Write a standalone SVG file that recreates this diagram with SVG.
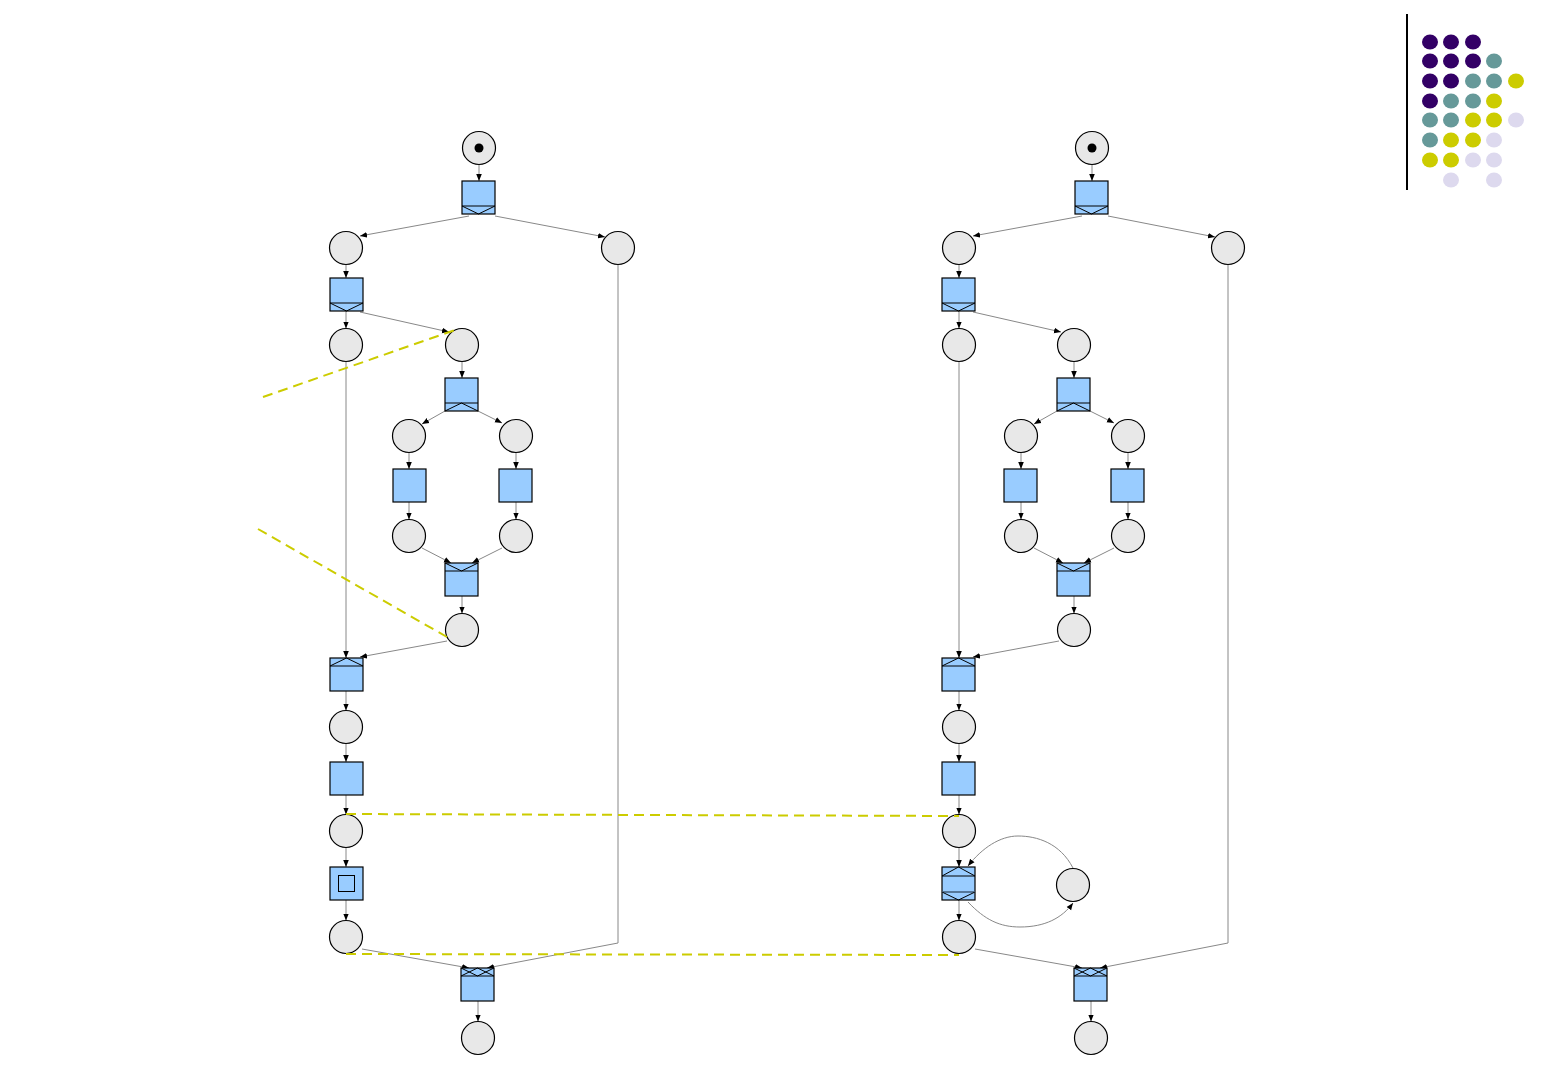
<svg xmlns="http://www.w3.org/2000/svg" width="1560" height="1080" viewBox="0 0 1560 1080">
<defs>
<style>
.pl{fill:#e8e8e8;stroke:#000;stroke-width:1.2}
.tr{fill:#99ccff;stroke:#000;stroke-width:1.2}
.dec{fill:none;stroke:#000;stroke-width:1}
.arc{fill:none;stroke:#888;stroke-width:1;marker-end:url(#ah)}
.ln{fill:none;stroke:#888;stroke-width:1}
.dash{fill:none;stroke:#cccc00;stroke-width:2;stroke-dasharray:10,6}
.P{fill:#330066}.T{fill:#669999}.Y{fill:#cccc00}.L{fill:#ddd9ee}
</style>
<marker id="ah" viewBox="0 0 10 10" refX="10" refY="5" markerWidth="7" markerHeight="7" orient="auto" markerUnits="userSpaceOnUse">
<path d="M0,1 L10,5 L0,9 Z" fill="#000"/>
</marker>
</defs>
<rect width="1560" height="1080" fill="#fff"/>

<g id="connectors">
<!-- left net -->
<path class="arc" d="M479,164.5 L479,181"/>
<path class="arc" d="M469,216 L360,236"/>
<path class="arc" d="M495,216 L605,237"/>
<path class="arc" d="M346,264.5 L346,278"/>
<path class="arc" d="M346,311 L346,328.5"/>
<path class="arc" d="M360,312 L449,332"/>
<path class="arc" d="M462,361.5 L462,378"/>
<path class="arc" d="M445,411 L422,424"/>
<path class="arc" d="M478,411 L502,423"/>
<path class="arc" d="M409,452.5 L409,469"/>
<path class="arc" d="M409,502 L409,519.5"/>
<path class="arc" d="M516,452.5 L516,469"/>
<path class="arc" d="M516,502 L516,519.5"/>
<path class="arc" d="M422,548 L451,563"/>
<path class="arc" d="M502,548 L472,563"/>
<path class="arc" d="M462,596 L462,613.5"/>
<path class="arc" d="M447,641 L360,657"/>
<path class="arc" d="M346,361.5 L346,658"/>
<path class="arc" d="M346,691 L346,710.5"/>
<path class="arc" d="M346,743.5 L346,762"/>
<path class="arc" d="M346,795 L346,814.5"/>
<path class="arc" d="M346,847.5 L346,867"/>
<path class="arc" d="M346,900 L346,920.5"/>
<path class="arc" d="M362,949 L469,968"/>
<path class="arc" d="M618,264.5 L618,943 L487,968"/>
<path class="arc" d="M478,1001 L478,1021.5"/>
<!-- right net -->
<path class="arc" d="M1092,164.5 L1092,181"/>
<path class="arc" d="M1082,216 L973,236"/>
<path class="arc" d="M1108,216 L1215,237"/>
<path class="arc" d="M959,264.5 L959,278"/>
<path class="arc" d="M959,311 L959,328.5"/>
<path class="arc" d="M973,312 L1061,332"/>
<path class="arc" d="M1074,361.5 L1074,378"/>
<path class="arc" d="M1057,411 L1034,424"/>
<path class="arc" d="M1090,411 L1114,423"/>
<path class="arc" d="M1021,452.5 L1021,469"/>
<path class="arc" d="M1021,502 L1021,519.5"/>
<path class="arc" d="M1128,452.5 L1128,469"/>
<path class="arc" d="M1128,502 L1128,519.5"/>
<path class="arc" d="M1034,548 L1063,563"/>
<path class="arc" d="M1114,548 L1084,563"/>
<path class="arc" d="M1074,596 L1074,613.5"/>
<path class="arc" d="M1059,641 L973,657"/>
<path class="arc" d="M959,361.5 L959,658"/>
<path class="arc" d="M959,691 L959,710.5"/>
<path class="arc" d="M959,743.5 L959,762"/>
<path class="arc" d="M959,795 L959,814.5"/>
<path class="arc" d="M959,847.5 L959,867"/>
<path class="arc" d="M959,900 L959,920.5"/>
<path class="arc" d="M975,949 L1082,968"/>
<path class="arc" d="M1228,264.5 L1228,943 L1100,968"/>
<path class="arc" d="M1091,1001 L1091,1021.5"/>
<path class="arc" d="M1073,868 C1060,843 1037,836 1018,836 C1000,836 982,848 968,866"/>
<path class="arc" d="M968,902 C985,920 1000,927 1020,927 C1045,927 1062,918 1073,903"/>
</g>

<g id="left-net">
<g id="L_p0"><circle class="pl" cx="479" cy="148" r="16.5"/><circle cx="479" cy="148" r="4.5" fill="#000"/></g>
<g id="L_t1"><rect class="tr" x="462" y="181" width="33" height="33"/><path class="dec" d="M462,206 H495 M462,206 L478.5,214 L495,206"/></g>
<g id="L_p1"><circle class="pl" cx="346" cy="248" r="16.5"/></g>
<g id="L_p2"><circle class="pl" cx="618" cy="248" r="16.5"/></g>
<g id="L_t2"><rect class="tr" x="330" y="278" width="33" height="33"/><path class="dec" d="M330,303 H363 M330,303 L346.5,311 L363,303"/></g>
<g id="L_p3"><circle class="pl" cx="346" cy="345" r="16.5"/></g>
<g id="L_p4"><circle class="pl" cx="462" cy="345" r="16.5"/></g>
<g id="L_t3"><rect class="tr" x="445" y="378" width="33" height="33"/><path class="dec" d="M445,403 H478 M445,411 L461.5,403 L478,411"/></g>
<g id="L_p5"><circle class="pl" cx="409" cy="436" r="16.5"/></g>
<g id="L_p6"><circle class="pl" cx="516" cy="436" r="16.5"/></g>
<g id="L_t4"><rect class="tr" x="393" y="469" width="33" height="33"/></g>
<g id="L_t5"><rect class="tr" x="499" y="469" width="33" height="33"/></g>
<g id="L_p7"><circle class="pl" cx="409" cy="536" r="16.5"/></g>
<g id="L_p8"><circle class="pl" cx="516" cy="536" r="16.5"/></g>
<g id="L_t6"><rect class="tr" x="445" y="563" width="33" height="33"/><path class="dec" d="M445,571 H478 M445,563 L461.5,571 L478,563"/></g>
<g id="L_p9"><circle class="pl" cx="462" cy="630" r="16.5"/></g>
<g id="L_t7"><rect class="tr" x="330" y="658" width="33" height="33"/><path class="dec" d="M330,666 H363 M330,666 L346.5,658 L363,666"/></g>
<g id="L_p10"><circle class="pl" cx="346" cy="727" r="16.5"/></g>
<g id="L_t8"><rect class="tr" x="330" y="762" width="33" height="33"/></g>
<g id="L_p11"><circle class="pl" cx="346" cy="831" r="16.5"/></g>
<g id="L_t9"><rect class="tr" x="330" y="867" width="33" height="33"/><rect class="dec" x="338.5" y="875.5" width="16" height="16"/></g>
<g id="L_p12"><circle class="pl" cx="346" cy="937" r="16.5"/></g>
<g id="L_t10"><rect class="tr" x="461" y="968" width="33" height="33"/><path class="dec" d="M461,976 H494 M461,968 L477.5,976 L494,968 M461,976 L477.5,968 L494,976"/></g>
<g id="L_p13"><circle class="pl" cx="478" cy="1038" r="16.5"/></g>
</g>

<g id="right-net">
<g id="R_p0"><circle class="pl" cx="1092" cy="148" r="16.5"/><circle cx="1092" cy="148" r="4.5" fill="#000"/></g>
<g id="R_t1"><rect class="tr" x="1075" y="181" width="33" height="33"/><path class="dec" d="M1075,206 H1108 M1075,206 L1091.5,214 L1108,206"/></g>
<g id="R_p1"><circle class="pl" cx="959" cy="248" r="16.5"/></g>
<g id="R_p2"><circle class="pl" cx="1228" cy="248" r="16.5"/></g>
<g id="R_t2"><rect class="tr" x="942" y="278" width="33" height="33"/><path class="dec" d="M942,303 H975 M942,303 L958.5,311 L975,303"/></g>
<g id="R_p3"><circle class="pl" cx="959" cy="345" r="16.5"/></g>
<g id="R_p4"><circle class="pl" cx="1074" cy="345" r="16.5"/></g>
<g id="R_t3"><rect class="tr" x="1057" y="378" width="33" height="33"/><path class="dec" d="M1057,403 H1090 M1057,411 L1073.5,403 L1090,411"/></g>
<g id="R_p5"><circle class="pl" cx="1021" cy="436" r="16.5"/></g>
<g id="R_p6"><circle class="pl" cx="1128" cy="436" r="16.5"/></g>
<g id="R_t4"><rect class="tr" x="1004" y="469" width="33" height="33"/></g>
<g id="R_t5"><rect class="tr" x="1111" y="469" width="33" height="33"/></g>
<g id="R_p7"><circle class="pl" cx="1021" cy="536" r="16.5"/></g>
<g id="R_p8"><circle class="pl" cx="1128" cy="536" r="16.5"/></g>
<g id="R_t6"><rect class="tr" x="1057" y="563" width="33" height="33"/><path class="dec" d="M1057,571 H1090 M1057,563 L1073.5,571 L1090,563"/></g>
<g id="R_p9"><circle class="pl" cx="1074" cy="630" r="16.5"/></g>
<g id="R_t7"><rect class="tr" x="942" y="658" width="33" height="33"/><path class="dec" d="M942,666 H975 M942,666 L958.5,658 L975,666"/></g>
<g id="R_p10"><circle class="pl" cx="959" cy="727" r="16.5"/></g>
<g id="R_t8"><rect class="tr" x="942" y="762" width="33" height="33"/></g>
<g id="R_p11"><circle class="pl" cx="959" cy="831" r="16.5"/></g>
<g id="R_t9"><rect class="tr" x="942" y="867" width="33" height="33"/><path class="dec" d="M942,876 H975 M942,876 L958.5,867 L975,876"/><path d="M942,892 H975" stroke="#557799" stroke-width="2" fill="none"/><path class="dec" d="M942,892 L958.5,900 L975,892"/></g>
<g id="R_p12"><circle class="pl" cx="959" cy="937" r="16.5"/></g>
<g id="R_ploop"><circle class="pl" cx="1073" cy="885" r="16.5"/></g>
<g id="R_t10"><rect class="tr" x="1074" y="968" width="33" height="33"/><path class="dec" d="M1074,976 H1107 M1074,968 L1090.5,976 L1107,968 M1074,976 L1090.5,968 L1107,976"/></g>
<g id="R_p13"><circle class="pl" cx="1091" cy="1038" r="16.5"/></g>
</g>

<g id="mappings">
<path class="dash" d="M263,397 L455,330"/>
<path class="dash" d="M258,529 L447,637"/>
<path class="dash" d="M346,814 L959,816"/>
<path class="dash" d="M346,954 L959,955"/>
</g>

<g id="legend">
<path d="M1407,14 V190" stroke="#000" stroke-width="2"/>
<ellipse class="P" cx="1430" cy="42" rx="8" ry="7.5"/><ellipse class="P" cx="1451" cy="42" rx="8" ry="7.5"/><ellipse class="P" cx="1473" cy="42" rx="8" ry="7.5"/>
<ellipse class="P" cx="1430" cy="61" rx="8" ry="7.5"/><ellipse class="P" cx="1451" cy="61" rx="8" ry="7.5"/><ellipse class="P" cx="1473" cy="61" rx="8" ry="7.5"/><ellipse class="T" cx="1494" cy="61" rx="8" ry="7.5"/>
<ellipse class="P" cx="1430" cy="81" rx="8" ry="7.5"/><ellipse class="P" cx="1451" cy="81" rx="8" ry="7.5"/><ellipse class="T" cx="1473" cy="81" rx="8" ry="7.5"/><ellipse class="T" cx="1494" cy="81" rx="8" ry="7.5"/><ellipse class="Y" cx="1516" cy="81" rx="8" ry="7.5"/>
<ellipse class="P" cx="1430" cy="101" rx="8" ry="7.5"/><ellipse class="T" cx="1451" cy="101" rx="8" ry="7.5"/><ellipse class="T" cx="1473" cy="101" rx="8" ry="7.5"/><ellipse class="Y" cx="1494" cy="101" rx="8" ry="7.5"/>
<ellipse class="T" cx="1430" cy="120" rx="8" ry="7.5"/><ellipse class="T" cx="1451" cy="120" rx="8" ry="7.5"/><ellipse class="Y" cx="1473" cy="120" rx="8" ry="7.5"/><ellipse class="Y" cx="1494" cy="120" rx="8" ry="7.5"/><ellipse class="L" cx="1516" cy="120" rx="8" ry="7.5"/>
<ellipse class="T" cx="1430" cy="140" rx="8" ry="7.5"/><ellipse class="Y" cx="1451" cy="140" rx="8" ry="7.5"/><ellipse class="Y" cx="1473" cy="140" rx="8" ry="7.5"/><ellipse class="L" cx="1494" cy="140" rx="8" ry="7.5"/>
<ellipse class="Y" cx="1430" cy="160" rx="8" ry="7.5"/><ellipse class="Y" cx="1451" cy="160" rx="8" ry="7.5"/><ellipse class="L" cx="1473" cy="160" rx="8" ry="7.5"/><ellipse class="L" cx="1494" cy="160" rx="8" ry="7.5"/>
<ellipse class="L" cx="1451" cy="180" rx="8" ry="7.5"/><ellipse class="L" cx="1494" cy="180" rx="8" ry="7.5"/>
</g>
</svg>
